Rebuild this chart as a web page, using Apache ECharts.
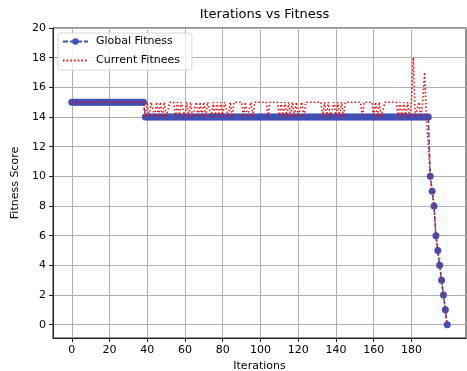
<!DOCTYPE html>
<html>
<head>
<meta charset="utf-8">
<script src="https://cdn.jsdelivr.net/npm/echarts@6/dist/echarts.min.js"></script>
<style>
html,body{margin:0;padding:0;background:#fff;}
#chart{width:467px;height:371px;}
</style>
</head>
<body>
<div id="chart"></div>
<script>
const titleText = "Iterations vs Fitness";
const xName = "Iterations";
const yName = "Fitness Score";
const seriesNames = ["Global Fitness", "Current Fitnees"];
const xTicks = [0, 20, 40, 60, 80, 100, 120, 140, 160, 180];
const yTicks = [0, 2, 4, 6, 8, 10, 12, 14, 16, 18, 20];

const globalFitness = [
 15,15,15,15,15,15,15,15,15,15,
 15,15,15,15,15,15,15,15,15,15,
 15,15,15,15,15,15,15,15,15,15,
 15,15,15,15,15,15,15,15,15,14,
 14,14,14,14,14,14,14,14,14,14,
 14,14,14,14,14,14,14,14,14,14,
 14,14,14,14,14,14,14,14,14,14,
 14,14,14,14,14,14,14,14,14,14,
 14,14,14,14,14,14,14,14,14,14,
 14,14,14,14,14,14,14,14,14,14,
 14,14,14,14,14,14,14,14,14,14,
 14,14,14,14,14,14,14,14,14,14,
 14,14,14,14,14,14,14,14,14,14,
 14,14,14,14,14,14,14,14,14,14,
 14,14,14,14,14,14,14,14,14,14,
 14,14,14,14,14,14,14,14,14,14,
 14,14,14,14,14,14,14,14,14,14,
 14,14,14,14,14,14,14,14,14,14,
 14,14,14,14,14,14,14,14,14,14,
 10,9,8,6,5,4,3,2,1,0
];

const currentFitness = [
 15,15,15,15,15,15,15,15,15,15,
 15,15,15,15,15,15,15,15,15,15,
 15,15,15,15,15,15,15,15,15,15,
 15,15,15,15,15,15,15,15,15,14,
 15,14,15,15,14,15,14,15,14,15,
 14,14,15,15,15,14,15,14,15,15,
 14,15,14,15,14,14,15,14,15,14,
 15,14,15,15,14,15,14,15,14,15,
 14,15,15,14,15,14,15,15,15,15,
 15,14,15,14,14,15,14,15,15,15,
 15,15,15,15,14,15,15,15,15,15,
 14,15,14,15,14,15,14,15,14,15,
 14,14,15,14,15,15,15,15,15,15,
 15,15,15,14,15,14,15,14,14,15,
 14,15,14,15,14,15,15,15,15,15,
 15,15,15,15,14,15,15,15,15,15,
 14,15,14,15,14,14,15,15,15,15,
 15,15,15,14,15,14,15,14,15,14,
 15,18,14,14,15,14,15,17,14,14,
 10,9,8,6,5,4,3,2,1,0
];

const font = "DejaVu Sans";
const chart = echarts.init(document.getElementById('chart'), null, {renderer: 'canvas'});
const toPairs = arr => arr.map((v, i) => [i, v]);

chart.setOption({
  animation: false,
  backgroundColor: '#fff',
  title: {
    text: titleText,
    left: 259.5, top: 3,
    textAlign: 'center',
    textStyle: {fontFamily: font, fontSize: 13, fontWeight: 'normal', color: '#000'}
  },
  legend: {
    orient: 'vertical',
    left: 58, top: 33,
    padding: [3, 12, 4, 4],
    itemWidth: 25, itemHeight: 8, itemGap: 8,
    borderColor: '#d8d8d8', borderWidth: 1, borderRadius: 3,
    backgroundColor: 'rgba(255,255,255,0.8)',
    textStyle: {fontFamily: font, fontSize: 11, color: '#000', padding: [0, 0, 0, 3]},
    data: [
      {name: seriesNames[0]},
      {name: seriesNames[1], itemStyle: {opacity: 0}}
    ]
  },
  grid: {
    left: 53, right: 1, top: 28, bottom: 33,
    outerBoundsMode: 'none',
    containLabel: false,
    show: true, borderColor: '#222', borderWidth: 1, backgroundColor: 'transparent'
  },
  xAxis: {
    type: 'value',
    min: -9.95, max: 208.95,
    name: xName, nameLocation: 'middle', nameGap: 23,
    nameTextStyle: {fontFamily: font, fontSize: 11, color: '#000'},
    axisLine: {show: true, onZero: false, lineStyle: {color: '#222', width: 1}},
    axisTick: {show: true, length: 4, lineStyle: {color: '#222'}, customValues: xTicks},
    axisLabel: {fontFamily: font, fontSize: 11, color: '#000', margin: 7, customValues: xTicks},
    splitLine: {show: true, lineStyle: {color: '#b0b0b0', width: 1}}
  },
  yAxis: {
    type: 'value',
    min: -0.9, max: 20,
    name: yName, nameLocation: 'middle', nameGap: 30,
    nameTextStyle: {fontFamily: font, fontSize: 11, color: '#000'},
    axisLine: {show: true, onZero: false, lineStyle: {color: '#222', width: 1}},
    axisTick: {show: true, length: 4, lineStyle: {color: '#222'}, customValues: yTicks},
    axisLabel: {fontFamily: font, fontSize: 11, color: '#000', margin: 7, customValues: yTicks},
    splitLine: {show: true, lineStyle: {color: '#b0b0b0', width: 1}}
  },
  series: [
    {
      name: seriesNames[0],
      type: 'line',
      z: 2,
      data: toPairs(globalFitness),
      symbol: 'circle', symbolSize: 7, showSymbol: true,
      itemStyle: {color: '#3f51b5'},
      lineStyle: {color: '#3f51b5', width: 1.5, type: [5, 2]}
    },
    {
      name: seriesNames[1],
      type: 'line',
      z: 5,
      data: toPairs(currentFitness),
      symbol: 'none', showSymbol: false,
      itemStyle: {color: '#ff0000'},
      lineStyle: {color: '#ff0000', width: 1.5, type: [1.5, 2.2]}
    }
  ]
});
</script>
</body>
</html>
